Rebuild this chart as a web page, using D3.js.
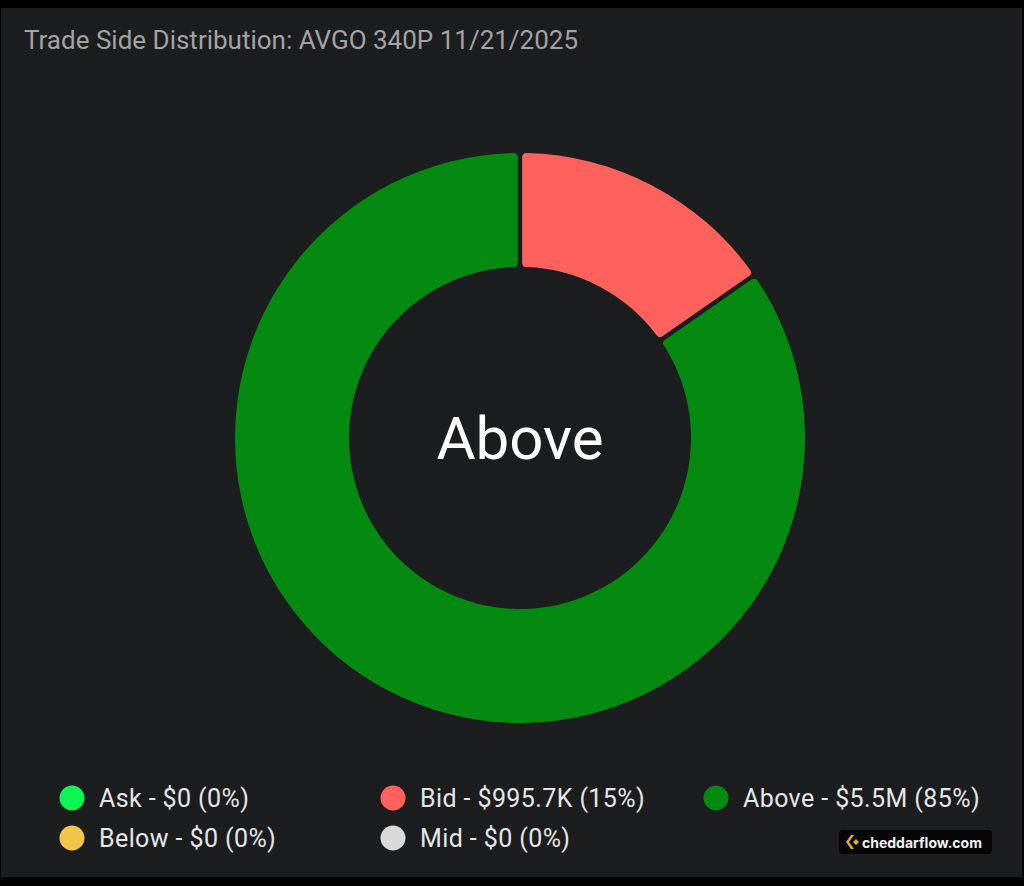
<!DOCTYPE html>
<html>
<head>
<meta charset="utf-8">
<script src="https://cdn.jsdelivr.net/npm/d3@7"></script>
<style>
  body { margin: 0; background: #000; }
  svg { display: block; }
</style>
</head>
<body>
<div id="chart"></div>
<script>
// chart data
const sides = ["Ask", "Bid", "Above", "Below", "Mid"];
const amounts = [0, 995700, 5500000, 0, 0];
const amountLabels = ["$0", "$995.7K", "$5.5M", "$0", "$0"];
const percentLabels = ["0%", "15%", "85%", "0%", "0%"];
const sideColors = ["#0df552", "#ff625c", "#048a10", "#f0c548", "#d9d9d9"];
const titleText = "Trade Side Distribution: AVGO 340P 11/21/2025";
const centerText = "Above";

const width = 1024, height = 886;
const font = "Roboto, 'Noto Sans', sans-serif";

let svg = d3.select("#chart").append("svg")
    .attr("width", width)
    .attr("height", height);

// panel
svg.append("rect")
    .attr("x", 1).attr("y", 8)
    .attr("width", 1021).attr("height", 869)
    .attr("fill", "#1c1d1f");

svg.append("text")
    .attr("x", 24).attr("y", 49)
    .attr("fill", "#a3a3a3")
    .attr("font-family", font)
    .attr("font-size", 26)
    .text(titleText);

// donut
let data = sides.map((s, i) => ({side: s, value: amounts[i], color: sideColors[i]}));

let pie = d3.pie()
    .sort(null)
    .value(d => d.value);

let arc = d3.arc()
    .innerRadius(171)
    .outerRadius(285)
    .padAngle(0.013)
    .cornerRadius(4);

let g = svg.append("g").attr("transform", "translate(520,438)");

g.selectAll("path")
    .data(pie(data).filter(d => d.data.value > 0))
    .enter()
    .append("path")
    .attr("d", arc)
    .attr("fill", d => d.data.color);

g.append("text")
    .attr("text-anchor", "middle")
    .attr("dominant-baseline", "central")
    .attr("fill", "#ffffff")
    .attr("font-family", font)
    .attr("font-size", 60)
    .text(centerText);

// legend
let colX = [72, 393, 716];
let rowY = [798, 838];

let legend = svg.selectAll(".legend")
    .data(data)
    .enter()
    .append("g")
    .attr("class", "legend")
    .attr("transform", (d, i) => "translate(" + colX[i % 3] + "," + rowY[Math.floor(i / 3)] + ")");

legend.append("circle")
    .attr("r", 12.5)
    .attr("fill", d => d.color);

legend.append("text")
    .attr("x", 27)
    .attr("dominant-baseline", "central")
    .attr("fill", "#e6e6e6")
    .attr("font-family", font)
    .attr("font-size", 25)
    .attr("letter-spacing", 0.4)
    .text((d, i) => d.side + " - " + amountLabels[i] + " (" + percentLabels[i] + ")");

// watermark
let wm = svg.append("g").attr("transform", "translate(839,830)");
wm.append("rect")
    .attr("width", 153).attr("height", 24)
    .attr("rx", 4)
    .attr("fill", "#050505");
wm.append("path")
    .attr("d", "M12,5 L7,12 L12,19 L15,19 L10,12 L15,5 Z M17,9 L14,12 L17,15 L20,12 Z")
    .attr("fill", "#e3b121");
wm.append("text")
    .attr("x", 23).attr("y", 12)
    .attr("dominant-baseline", "central")
    .attr("fill", "#f2f2f2")
    .attr("font-family", "Inter, 'Noto Sans', sans-serif")
    .attr("font-weight", "bold")
    .attr("font-size", 14)
    .text("cheddarflow.com");
</script>
</body>
</html>
